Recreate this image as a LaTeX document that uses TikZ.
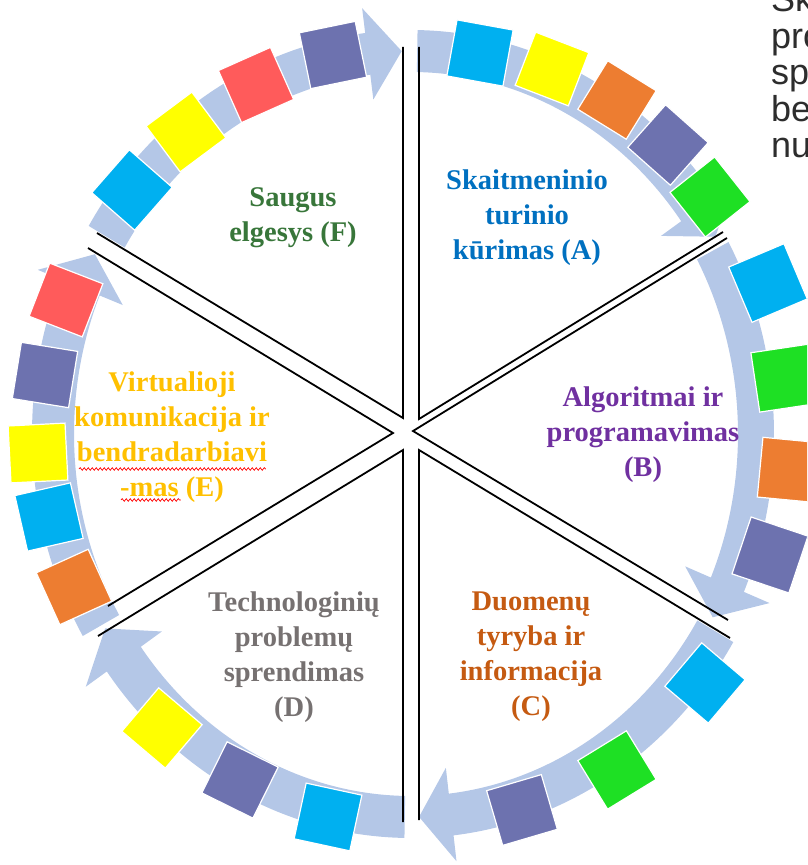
\documentclass[tikz,border=0pt]{standalone}
\usepackage{fontspec}
\setmainfont{Liberation Serif}
\newfontfamily\sidefont{Liberation Sans}
\usetikzlibrary{decorations.pathmorphing}
\definecolor{bandc}{RGB}{180,199,231}
\definecolor{sqcyan}{RGB}{0,176,240}
\definecolor{sqyellow}{RGB}{255,255,0}
\definecolor{sqorange}{RGB}{237,125,49}
\definecolor{sqpurple}{RGB}{109,114,175}
\definecolor{sqred}{RGB}{255,91,91}
\definecolor{sqgreen}{RGB}{30,224,36}
\definecolor{tF}{RGB}{56,118,58}
\definecolor{tA}{RGB}{0,112,192}
\definecolor{tB}{RGB}{112,48,160}
\definecolor{tC}{RGB}{197,90,17}
\definecolor{tD}{RGB}{118,113,113}
\definecolor{tE}{RGB}{255,192,0}
\definecolor{sidegray}{RGB}{45,45,45}
\newcommand\arrowband[7]{%
 \pgfmathsetmacro\abRo{#4+#6}\pgfmathsetmacro\abRob{#5+#6}%
 \pgfmathsetmacro\abRi{#4-#6}\pgfmathsetmacro\abRib{#5-#6}%
 \pgfmathsetmacro\abHo{#4+#7}\pgfmathsetmacro\abHob{#5+#7}%
 \pgfmathsetmacro\abHi{#4-#7}\pgfmathsetmacro\abHib{#5-#7}%
 \fill[bandc] ({\abRo*cos(#1)},{\abRob*sin(#1)})
   arc[start angle=#1,end angle=#2,x radius=\abRo,y radius=\abRob]
   -- ({\abHo*cos(#2)},{\abHob*sin(#2)})
   -- ({#4*cos(#3)},{#5*sin(#3)})
   -- ({\abHi*cos(#2)},{\abHib*sin(#2)})
   -- ({\abRi*cos(#2)},{\abRib*sin(#2)})
   arc[start angle=#2,end angle=#1,x radius=\abRi,y radius=\abRib]
   -- cycle;}
\tikzset{
  sq/.style={draw=white, line width=1.2pt, minimum size=57pt, inner sep=0pt, outer sep=0pt},
  wedge/.style={draw=black, line width=1.8pt, line join=miter},
  lbl/.style={align=center, font=\bfseries\fontsize{28.5}{35}\selectfont, inner sep=0pt},
  sidetxt/.style={anchor=base west, inner sep=0pt, text=sidegray, font=\sidefont\fontsize{36}{36}\selectfont},
  squig/.style={draw=red, line width=0.7pt, decorate, decoration={snake, amplitude=1.3pt, segment length=4pt}}
}
\begin{document}
\begin{tikzpicture}[x=1pt,y=1pt]
\useasboundingbox (-411,-431) rectangle (396,434);
\begin{scope}
\clip (-411,-431) rectangle (396,434);
% arrows (clockwise)
\arrowband{149}{97}{91.5}{355}{383}{21}{46}
\arrowband{89}{36}{31}{355}{383}{21}{46}
\arrowband{29}{-23.5}{-29}{345}{378}{18}{46}
\arrowband{-31}{-83.5}{-88.7}{355}{383}{21}{47}
\arrowband{-91}{-144}{-149.5}{355}{383}{21}{47}
\arrowband{210}{157.5}{152}{358}{383}{21}{46}
% wedges
\draw[wedge] (-314,201) coordinate (f1) -- (-8,16) coordinate (f0) -- (-8,387) coordinate (f2);
\draw[wedge] (8,387) coordinate (a1) -- (8,15) coordinate (a0) -- (312,202) coordinate (a2);
\draw[wedge] (316,196) coordinate (b1) -- (2,3) coordinate (b0) -- (317,-186) coordinate (b2);
\draw[wedge] (319,-204) coordinate (c1) -- (8,-16) coordinate (c0) -- (8,-386) coordinate (c2);
\draw[wedge] (-8,-388) coordinate (d1) -- (-8,-16) coordinate (d0) -- (-313,-202) coordinate (d2);
\draw[wedge] (-303,-172) coordinate (e1) -- (-18,1) coordinate (e0) -- (-323,186) coordinate (e2);
% squares F
\node[sq, fill=sqpurple, rotate=11.6] (sf1) at (-78,379) {};
\node[sq, fill=sqred, rotate=24] (sf2) at (-155,349) {};
\node[sq, fill=sqyellow, rotate=36.7] (sf3) at (-225,302) {};
\node[sq, fill=sqcyan, rotate=48.8] (sf4) at (-279,244) {};
% squares A
\node[sq, fill=sqcyan, rotate=-10.3] (sa1) at (69,381) {};
\node[sq, fill=sqyellow, rotate=-21.1] (sa2) at (141,365) {};
\node[sq, fill=sqorange, rotate=-31.7] (sa3) at (206,334) {};
\node[sq, fill=sqpurple, rotate=-41.6] (sa4) at (257,289) {};
\node[sq, fill=sqgreen, rotate=-51.6] (sa5) at (299,237) {};
% squares B
\node[sq, fill=sqcyan, rotate=-67.1, minimum size=60pt] (sb1) at (357,151) {};
\node[sq, fill=sqgreen, rotate=-81.5, minimum size=60pt] (sb2) at (374,56) {};
\node[sq, fill=sqorange, rotate=-95.4, minimum size=60pt] (sb3) at (379,-36) {};
\node[sq, fill=sqpurple, rotate=-108.6, minimum size=60pt] (sb4) at (359,-121) {};
% squares C
\node[sq, fill=sqcyan, rotate=-130.3] (sc1) at (294,-249) {};
\node[sq, fill=sqgreen, rotate=-148.5] (sc2) at (206,-336) {};
\node[sq, fill=sqpurple, rotate=-163.6] (sc3) at (111,-376) {};
% squares D
\node[sq, fill=sqcyan, rotate=-192.2] (sd1) at (-83,-383) {};
\node[sq, fill=sqpurple, rotate=-206.3] (sd2) at (-171,-346) {};
\node[sq, fill=sqyellow, rotate=-220.3] (sd3) at (-249,-294) {};
% squares E
\node[sq, fill=sqorange, rotate=-245.6] (se1) at (-337,-153) {};
\node[sq, fill=sqcyan, rotate=-257.1] (se2) at (-362,-83) {};
\node[sq, fill=sqyellow, rotate=-267.1] (se3) at (-373,-19) {};
\node[sq, fill=sqpurple, rotate=80.8] (se4) at (-366,59) {};
\node[sq, fill=sqred, rotate=68.8] (se5) at (-345,134) {};
% labels
\node[lbl, text=tF] (lF) at (-118,216) {Saugus\\elgesys (F)};
\node[lbl, text=tA] (lA) at (116,216) {Skaitmeninio\\turinio\\kūrimas (A)};
\node[lbl, text=tB] (lB) at (232,-1) {Algoritmai ir\\programavimas\\(B)};
\node[lbl, text=tC] (lC) at (120,-223) {Duomenų\\tyryba ir\\informacija\\(C)};
\node[lbl, text=tD] (lD) at (-117,-223) {Technologinių\\problemų\\sprendimas\\(D)};
\node[lbl, text=tE] (lE) at (-239,-3) {Virtualioji\\komunikacija ir\\bendradarbiavi\\-mas (E)};
\draw[squig] (-332,-35) -- (-145,-35);
\draw[squig] (-290,-66) -- (-230,-66);
% side text
\node[sidetxt] (s1) at (360,422) {Ska};
\node[sidetxt] (s2) at (360,385.5) {pro};
\node[sidetxt] (s3) at (360,349) {sp};
\node[sidetxt] (s4) at (360,312.5) {be};
\node[sidetxt] (s5) at (360,276) {nu};
\end{scope}
\end{tikzpicture}
\end{document}
